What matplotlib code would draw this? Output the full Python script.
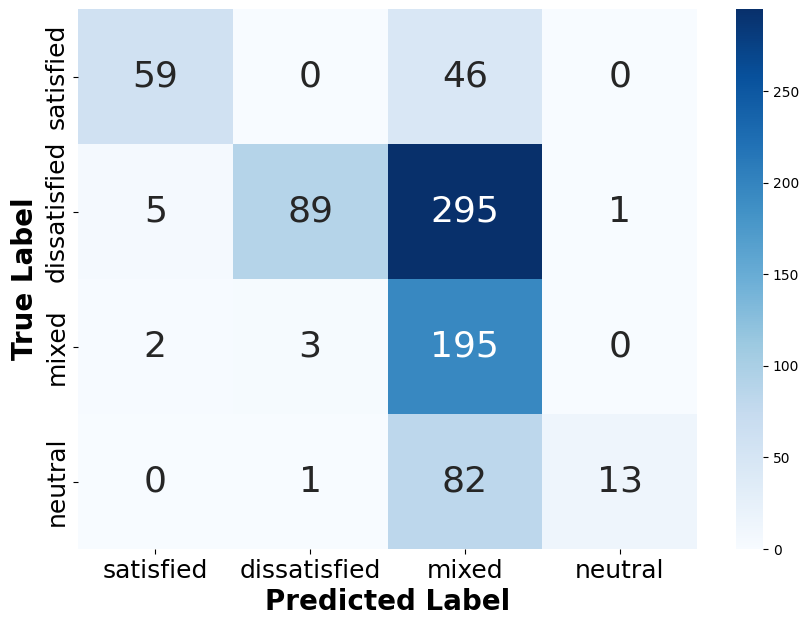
import numpy as np
import matplotlib
matplotlib.use('Agg')
import matplotlib.pyplot as plt
import seaborn as sns

labels = ['satisfied', 'dissatisfied', 'mixed', 'neutral']
row_satisfied = [59, 0, 46, 0]
row_dissatisfied = [5, 89, 295, 1]
row_mixed = [2, 3, 195, 0]
row_neutral = [0, 1, 82, 13]

cm = np.array([row_satisfied, row_dissatisfied, row_mixed, row_neutral])

fig = plt.figure(figsize=(8.09, 6.26), dpi=100)
ax = fig.add_axes([0.0964, 0.123, 0.7652, 0.8626])
cax = fig.add_axes([0.9098, 0.123, 0.0334, 0.8626])

sns.heatmap(cm, annot=True, fmt='d', cmap='Blues', ax=ax, cbar_ax=cax,
            xticklabels=labels, yticklabels=labels,
            annot_kws={'size': 26})

ax.set_xlabel('Predicted Label', fontsize=20, fontweight='bold')
ax.set_ylabel('True Label', fontsize=20, fontweight='bold')
ax.tick_params(axis='both', labelsize=18)
plt.setp(ax.get_yticklabels(), rotation=90, va='center')
cax.tick_params(labelsize=10)

fig.savefig('out.png', dpi=100)
